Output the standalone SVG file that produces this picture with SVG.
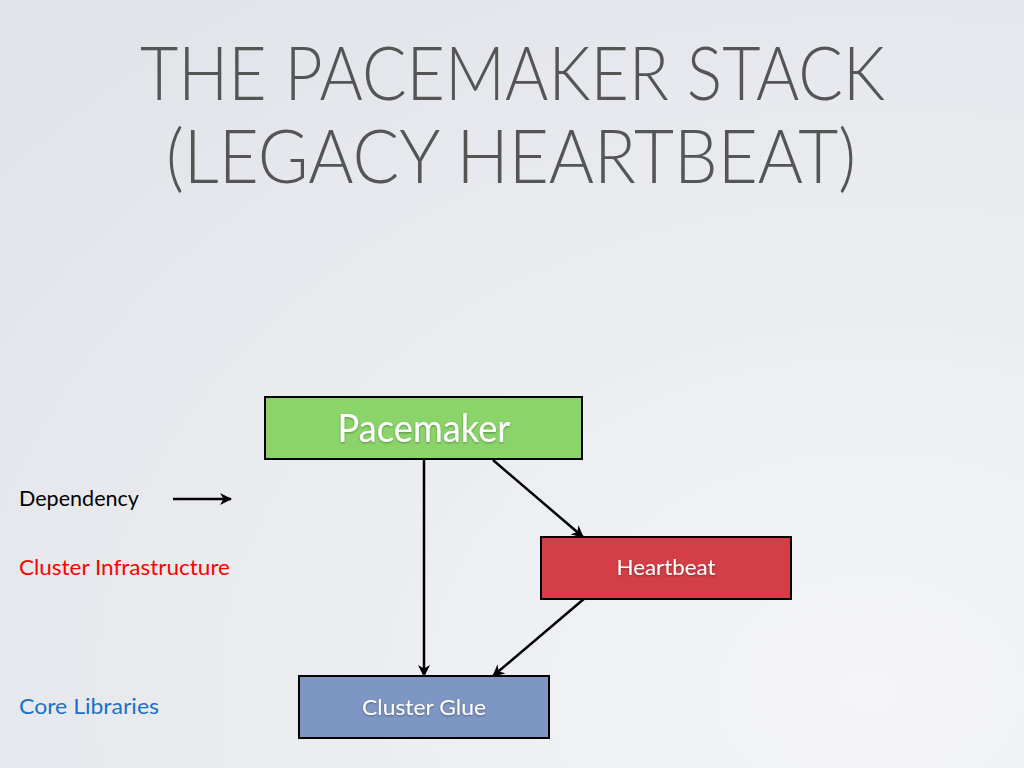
<svg xmlns="http://www.w3.org/2000/svg" width="1024" height="768" viewBox="0 0 1024 768">
<defs>
<radialGradient id="bg" cx="0.85" cy="0.9" r="1.1">
<stop offset="0" stop-color="#f5f5f7"/>
<stop offset="1" stop-color="#e1e4e9"/>
</radialGradient>
<marker id="ah" viewBox="0 0 12 12" refX="11" refY="6" markerWidth="12" markerHeight="12" orient="auto" markerUnits="userSpaceOnUse">
<path d="M0,0 L12,6 L0,12 L3.5,6 Z" fill="#000"/>
</marker>
<filter id="sh" x="-10%" y="-20%" width="120%" height="140%">
<feDropShadow dx="0" dy="1" stdDeviation="1" flood-color="#000" flood-opacity="0.35"/>
</filter>
</defs>
<style>
.title{font-family:"Lato","Open Sans","Liberation Sans",sans-serif;font-weight:300;font-size:74px;fill:#555555}
.box{stroke:#000;stroke-width:2}
.lbl{font-family:"Lato","Open Sans","Liberation Sans",sans-serif;fill:#ffffff;text-anchor:middle}
.leg{font-family:"Lato","Open Sans","Liberation Sans",sans-serif;font-size:21px}
.conn{stroke:#000;stroke-width:2.5;fill:none}
</style>
<rect width="1024" height="768" fill="url(#bg)"/>
<g id="title">
<text class="title" x="140" y="100" textLength="745" lengthAdjust="spacingAndGlyphs">THE PACEMAKER STACK</text>
<text class="title" x="166" y="183" textLength="690" lengthAdjust="spacingAndGlyphs">(LEGACY HEARTBEAT)</text>
</g>
<g id="legend">
<text class="leg" x="19" y="506" fill="#000" textLength="120" lengthAdjust="spacingAndGlyphs">Dependency</text>
<text class="leg" x="19" y="575" fill="#ff0000" textLength="211" lengthAdjust="spacingAndGlyphs">Cluster Infrastructure</text>
<text class="leg" x="19" y="714" fill="#1a72c4" textLength="140" lengthAdjust="spacingAndGlyphs">Core Libraries</text>
</g>
<g id="connectors">
<line class="conn" x1="173" y1="499" x2="231" y2="499" marker-end="url(#ah)"/>
<line class="conn" x1="424" y1="460" x2="424" y2="676" marker-end="url(#ah)"/>
<line class="conn" x1="493" y1="460" x2="583" y2="537" marker-end="url(#ah)"/>
<line class="conn" x1="585" y1="598" x2="493" y2="676" marker-end="url(#ah)"/>
</g>
<g id="node-pacemaker">
<rect class="box" x="265" y="397" width="317" height="62" fill="#8ad46a"/>
<text class="lbl" x="424" y="442" font-size="38" filter="url(#sh)" textLength="173" lengthAdjust="spacingAndGlyphs">Pacemaker</text>
</g>
<g id="node-heartbeat">
<rect class="box" x="541" y="537" width="250" height="62" fill="#d33e47"/>
<text class="lbl" x="666" y="575" font-size="21" filter="url(#sh)" textLength="99" lengthAdjust="spacingAndGlyphs">Heartbeat</text>
</g>
<g id="node-clusterglue">
<rect class="box" x="299" y="676" width="250" height="62" fill="#7e96c3"/>
<text class="lbl" x="424" y="715" font-size="21" filter="url(#sh)" textLength="124" lengthAdjust="spacingAndGlyphs">Cluster Glue</text>
</g>
</svg>
